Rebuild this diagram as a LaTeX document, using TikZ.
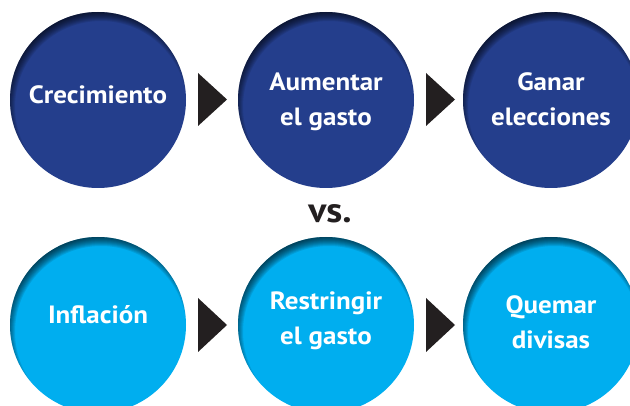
\documentclass[tikz,border=0pt]{standalone}
\usepackage{fontspec}
\setmainfont{PT Sans}[BoldFeatures={FakeStretch=1.08}]
\definecolor{topblue}{RGB}{36,62,140}
\definecolor{cyanblue}{RGB}{0,174,239}
\definecolor{tridark}{RGB}{35,31,32}
\newcommand\twoline[2]{\begin{tabular}[t]{@{}c@{}}#1\\#2\end{tabular}}
\tikzset{
  bubble/.style={circle, minimum size=176pt, inner sep=0pt, fill=#1,
    path picture={
      \foreach \r in {96,95,...,86}{
        \fill[black, opacity=0.09, even odd rule]
          (path picture bounding box.center) circle[radius=130pt]
          ([shift={(3pt,-7pt)}]path picture bounding box.center) circle[radius=\r pt];
      }
    }},
  lbl/.style={anchor=base, inner sep=0pt, text=white,
    font=\fontsize{25}{35}\selectfont\bfseries},
  vslbl/.style={anchor=base, inner sep=0pt, text=tridark,
    font=\fontsize{35}{40}\selectfont\bfseries},
  tri/.style={fill=tridark},
}
\begin{document}
\begin{tikzpicture}[x=1pt, y=-1pt]
\useasboundingbox (0,0) rectangle (630,406);
\fill[white] (0,0) rectangle (630,406);
% top row
\node[bubble=topblue] (c1) at (98,100) {};
\node[bubble=topblue] (c2) at (326,100) {};
\node[bubble=topblue] (c3) at (551,100) {};
% bottom row
\node[bubble=cyanblue] (d1) at (98,325) {};
\node[bubble=cyanblue] (d2) at (326,325) {};
\node[bubble=cyanblue] (d3) at (551,325) {};
% arrows
\fill[tri] (198,73) -- (227,99.5) -- (198,126) -- cycle;
\fill[tri] (426,73) -- (455,99.5) -- (426,126) -- cycle;
\fill[tri] (198,298) -- (227,325) -- (198,352) -- cycle;
\fill[tri] (426,298) -- (455,325) -- (426,352) -- cycle;
% labels
\node[lbl] (t1) at (98,104) {Crecimiento};
\node[lbl] (t2) at (326,91) {\twoline{Aumentar}{el gasto}};
\node[lbl] (t3) at (551,91) {\twoline{Ganar}{elecciones}};
\node[lbl] (u1) at (98,324) {Inflación};
\node[lbl] (u2) at (326,310) {\twoline{Restringir}{el gasto}};
\node[lbl] (u3) at (551,314) {\twoline{Quemar}{divisas}};
\node[vslbl] (vs) at (330,223) {vs.};
\end{tikzpicture}
\end{document}
